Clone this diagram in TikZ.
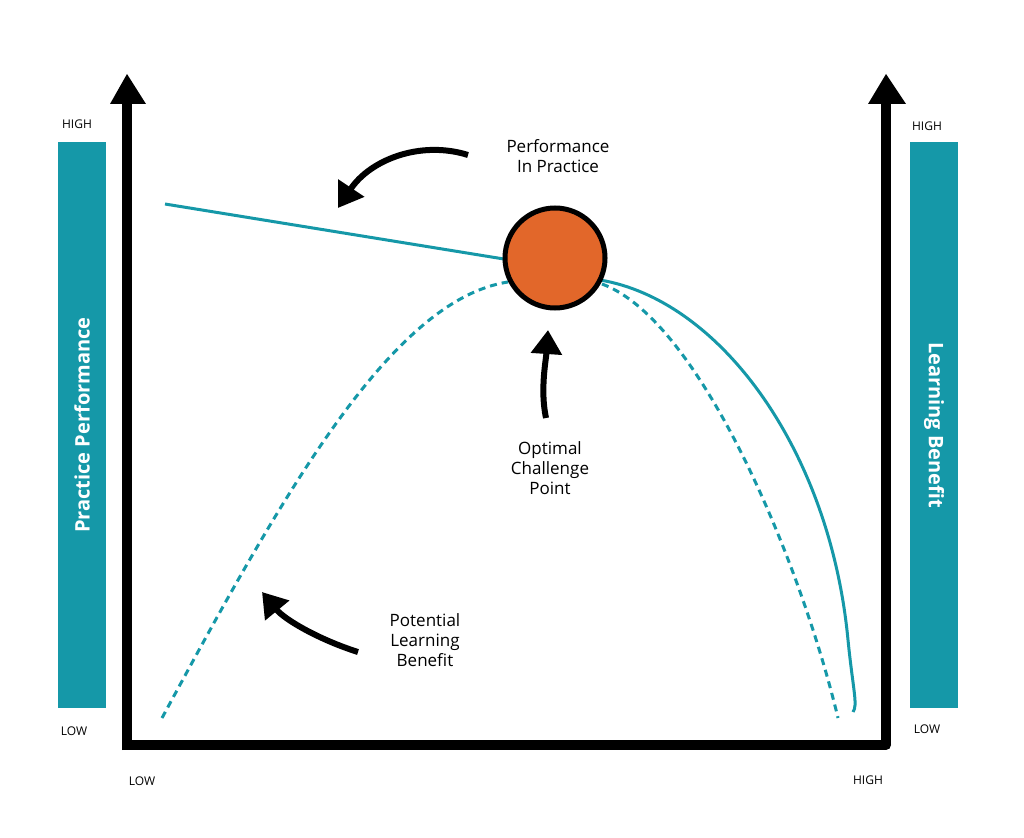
\documentclass[tikz,border=0pt]{standalone}
\usepackage{fontspec}
\setmainfont{Open Sans}
\usetikzlibrary{arrows.meta}
\definecolor{teal1}{HTML}{1598A8}
\definecolor{orng}{HTML}{E2672A}
\begin{document}
\begin{tikzpicture}[x=1pt,y=-1pt,
 axis/.style={line width=10pt,black},
 tip/.style={fill=black},
 bar/.style={fill=teal1},
 bartxt/.style={white,font=\fontsize{20}{22}\selectfont\bfseries},
 small/.style={font=\fontsize{12}{14}\selectfont},
 lbl/.style={font=\fontsize{17}{20}\selectfont,align=center},
 curve/.style={teal1,line width=3pt},
 pointer/.style={line width=6pt,-{Triangle[length=24pt,width=30pt]}}]
\useasboundingbox (0,0) rectangle (1024,837);
\fill[white] (0,0) rectangle (1024,837);
% bars
\node[bar,minimum width=48pt,minimum height=565pt,inner sep=0] (lb) at (82,425) {};
\node[bar,minimum width=48pt,minimum height=565pt,inner sep=0] (rb) at (934,425) {};
\node[bartxt,rotate=90] at (lb) {Practice Performance};
\node[bartxt,rotate=-90] at (rb) {Learning Benefit};
% axes
\coordinate (o) at (127,745);
\coordinate (lt) at (127,100);
\coordinate (rt) at (886,100);
\coordinate (ro) at (886,745);
\draw[axis] (127,750) -- (lt);
\draw[axis] (ro) -- (rt);
\draw[axis,line cap=round] (o) -- (ro);
\fill[tip] (110,104) -- (127,74) -- (146,104) -- cycle;
\fill[tip] (868,104) -- (886,74) -- (906,104) -- cycle;
% labels
\node[small] at (77,124) {HIGH};
\node[small] at (74,731) {LOW};
\node[small] at (927,126) {HIGH};
\node[small] at (927,729) {LOW};
\node[small] at (142,781) {LOW};
\node[small] at (868,780) {HIGH};
% curves
\draw[curve] (165,204) -- (510,260);
\draw[curve] (600,280) .. controls (720,300) and (830,450) .. (848,640) .. controls (853,690) and (858,705) .. (853,712);
\draw[curve,dash pattern=on 7pt off 5pt] (162,718) .. controls (280,500) and (390,300) .. (508,282);
\draw[curve,dash pattern=on 7pt off 5pt] (602,284) .. controls (700,320) and (800,560) .. (838,718);
% circle
\node[circle,draw=black,line width=5pt,fill=orng,minimum size=100pt] (c) at (555,258) {};
% pointer arrows
\node[lbl] (pp) at (558,156) {Performance\\In Practice};
\node[lbl] (oc) at (550,468) {Optimal\\Challenge\\Point};
\node[lbl] (pl) at (425,640) {Potential\\Learning\\Benefit};
\coordinate (a1s) at (468,155);
\coordinate (a2s) at (546,418);
\coordinate (a3s) at (358,652);
\draw[pointer] (a1s) .. controls (420,140) and (370,160) .. (338,208);
\draw[pointer] (a2s) .. controls (540,390) and (546,360) .. (548,330);
\draw[pointer] (a3s) .. controls (320,640) and (285,620) .. (262,592);
\end{tikzpicture}
\end{document}
